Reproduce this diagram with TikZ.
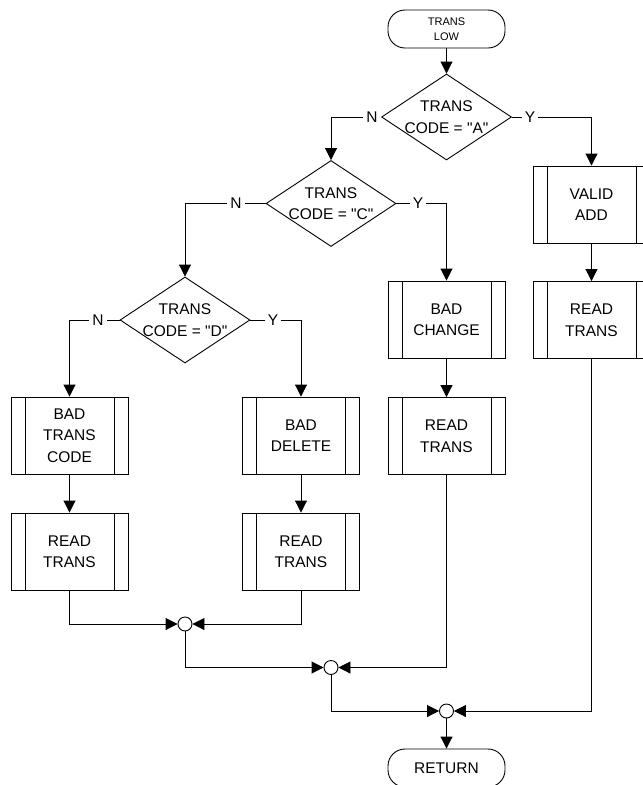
\documentclass[tikz,border=0pt]{standalone}
\usepackage{fontspec}
\setmainfont{Liberation Sans}[Ligatures=TeXOff]
\usetikzlibrary{shapes.geometric,arrows.meta}
\newcommand{\sq}{\symbol{34}}
\begin{document}
\begin{tikzpicture}[x=1pt,y=-1pt,
  line width=0.9pt,
  txt/.style={font=\fontsize{15.5}{21.5}\selectfont},
  proc/.style={draw, rectangle, minimum width=117pt, minimum height=77pt, inner sep=0pt, align=center, txt,
     path picture={\draw[line width=0.9pt]
        ([xshift=14pt]path picture bounding box.north west) -- ([xshift=14pt]path picture bounding box.south west)
        ([xshift=-14pt]path picture bounding box.north east) -- ([xshift=-14pt]path picture bounding box.south east);}},
  dec/.style={draw, diamond, minimum width=130pt, minimum height=86pt, inner sep=0pt},
  dtxt/.style={txt, align=center},
  term/.style={draw, rectangle, rounded corners=17pt, minimum width=117pt, minimum height=38pt, inner sep=0pt, align=center},
  merge/.style={draw, circle, minimum size=14pt, inner sep=0pt, fill=white},
  yn/.style={fill=white, inner sep=3pt, txt},
  arr/.style={-{Triangle[length=12pt,width=12pt]}},
  ]
\useasboundingbox (0,0) rectangle (643,785);
\clip (0,0) rectangle (643,785);

% terminals
\node[term, font=\fontsize{11}{15.5}\selectfont] (start) at (446.5,29) {TRANS\\LOW};
\node[term, txt] (ret) at (446.5,768) {RETURN};

% decisions
\node[dec, label={[dtxt]center:TRANS\\CODE = \sq A\sq}] (dA) at (446.5,117) {};
\node[dec, label={[dtxt]center:TRANS\\CODE = \sq C\sq}] (dC) at (331,203.5) {};
\node[dec, label={[dtxt]center:TRANS\\CODE = \sq D\sq}] (dD) at (185,320) {};

% processes
\node[proc] (va)  at (591.5,204.5) {VALID\\ADD};
\node[proc] (rtR) at (591.5,320)   {READ\\TRANS};
\node[proc] (bc)  at (446.5,319.5) {BAD\\CHANGE};
\node[proc] (rtC) at (446.5,436)   {READ\\TRANS};
\node[proc] (btc) at (69.5,435.5)  {BAD\\TRANS\\CODE};
\node[proc] (bd)  at (301,435.5)   {BAD\\DELETE};
\node[proc] (rtL) at (69.5,551.5)  {READ\\TRANS};
\node[proc] (rtM) at (301,551.5)   {READ\\TRANS};

% merge points
\node[merge] (m1) at (185,624) {};
\node[merge] (m2) at (331,667.5) {};
\node[merge] (m3) at (446.5,711) {};

% connectors
\draw[arr] (start) -- (dA);
\draw[arr] (dA.east) -| (va.north);
\draw[arr] (dA.west) -| (dC.north);
\draw[arr] (dC.east) -| (bc.north);
\draw[arr] (dC.west) -| (dD.north);
\draw[arr] (dD.west) -| (btc.north);
\draw[arr] (dD.east) -| (bd.north);
\draw[arr] (va) -- (rtR);
\draw[arr] (bc) -- (rtC);
\draw[arr] (btc) -- (rtL);
\draw[arr] (bd) -- (rtM);
\draw[arr] (rtL.south) |- (m1.west);
\draw[arr] (rtM.south) |- (m1.east);
\draw[arr] (m1.south) |- (m2.west);
\draw[arr] (rtC.south) |- (m2.east);
\draw[arr] (m2.south) |- (m3.west);
\draw[arr] (rtR.south) |- (m3.east);
\draw[arr] (m3) -- (ret);

% branch labels
\node[yn] (yA) at (530,117) {Y};
\node[yn] (nA) at (372,117) {N};
\node[yn] (yC) at (418,203.5) {Y};
\node[yn] (nC) at (236,203.5) {N};
\node[yn] (yD) at (273,320) {Y};
\node[yn] (nD) at (98,320) {N};
\end{tikzpicture}
\end{document}
